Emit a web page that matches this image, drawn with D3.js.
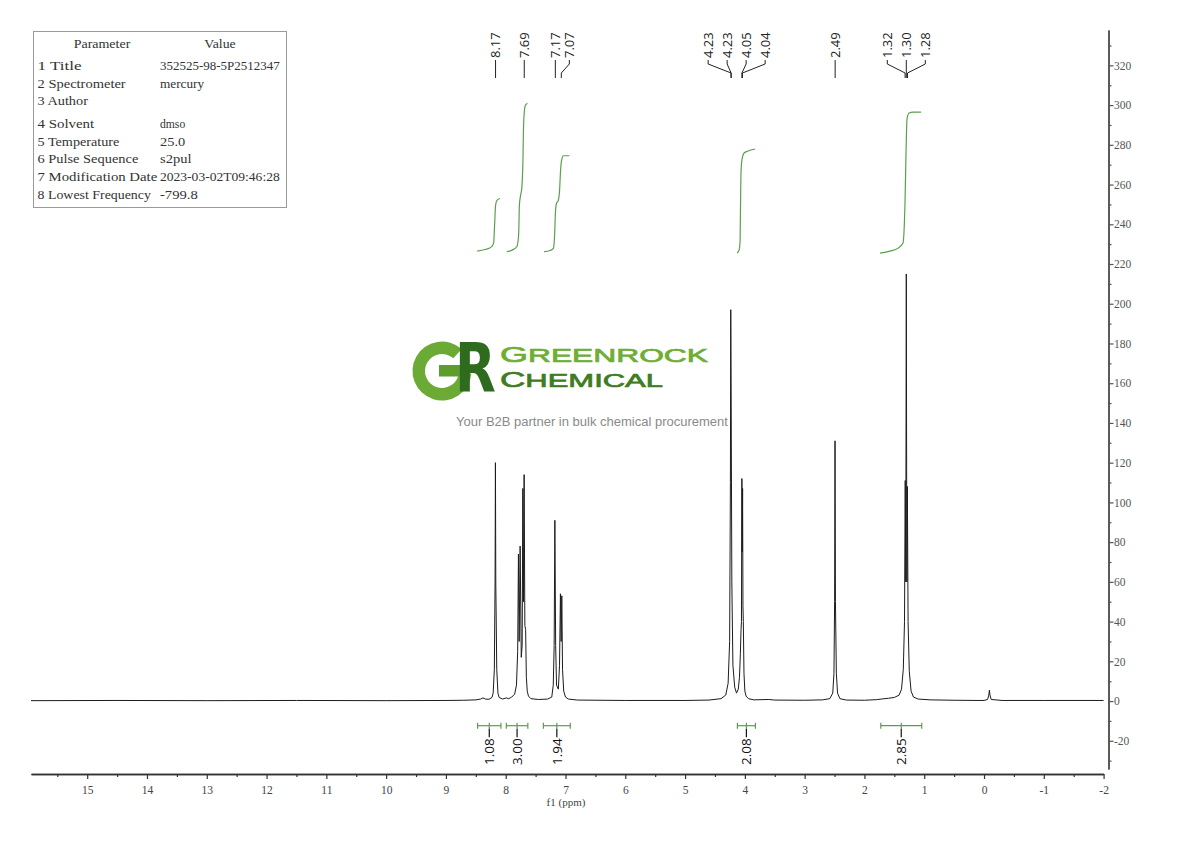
<!DOCTYPE html>
<html><head><meta charset="utf-8">
<script src="https://cdn.jsdelivr.net/npm/d3@7"></script>
<style>body{margin:0;background:#fff}svg{display:block}</style>
</head><body><svg id="c" width="1190" height="841"></svg>
<script>
// ---------------- DATA ----------------
const paramNames = ["1 Title","2 Spectrometer","3 Author","4 Solvent","5 Temperature","6 Pulse Sequence","7 Modification Date","8 Lowest Frequency"];
const paramValues = ["352525-98-5P2512347","mercury","","dmso","25.0","s2pul","2023-03-02T09:46:28","-799.8"];

// spectrum trace: [ppm, intensity]
const spectrum = [
 [15.94,0.2],[14.5,0.3],[13,0.2],[11.5,0.3],[10,0.2],[9,0.3],[8.7,0.4],[8.5,0.6],[8.42,1.0],[8.38,1.6],[8.34,1.0],
 [8.28,0.9],[8.23,1.8],[8.21,4],[8.19,16],[8.178,60],[8.172,120],[8.166,60],[8.15,16],[8.13,4],[8.11,1.8],[8.05,1.0],
 [7.99,1.6],[7.95,1.2],[7.90,2.0],[7.85,3.5],[7.82,8],[7.80,25],[7.787,74],[7.775,30],[7.759,78],[7.74,22],[7.725,28],
 [7.714,107],[7.703,50],[7.692,114],[7.68,38],[7.667,36],[7.655,12],[7.64,5],[7.62,2.5],[7.58,1.2],[7.45,0.8],[7.30,1.0],
 [7.23,2],[7.205,8],[7.19,28],[7.178,91],[7.165,28],[7.15,8],[7.12,6],[7.10,18],[7.085,54],[7.073,30],[7.062,53],
 [7.05,16],[7.03,5],[7.00,2],[6.95,1],[6.8,0.5],[6.0,0.3],[5.0,0.3],[4.6,0.5],[4.4,1.2],[4.32,3],[4.28,9],[4.255,30],
 [4.242,110],[4.236,197],[4.229,150],[4.218,60],[4.20,18],[4.17,7],[4.14,4],[4.11,6],[4.09,12],[4.075,24],[4.064,36],
 [4.057,40],[4.050,112],[4.044,75],[4.038,107],[4.032,48],[4.026,40],[4.015,14],[4.00,5],[3.98,2.5],[3.94,1.2],
 [3.85,0.6],[3.6,0.8],[3.5,0.5],[3.0,0.4],[2.7,0.6],[2.58,1.2],[2.53,4],[2.51,14],[2.499,50],[2.492,131],[2.485,50],
 [2.47,14],[2.45,4],[2.41,1.2],[2.3,0.5],[2.0,0.4],[1.8,0.7],[1.72,1.0],[1.6,1.4],[1.5,1.8],[1.42,3],[1.38,6],[1.35,16],
 [1.33,40],[1.318,111],[1.309,60],[1.300,215],[1.291,60],[1.282,108],[1.27,40],[1.25,15],[1.22,5],[1.18,2],[1.1,1],
 [0.9,0.6],[0.5,0.4],[0.1,0.3],[0,0.3],[-0.06,0.8],[-0.08,3],[-0.09,5.5],[-0.10,3],[-0.12,0.8],[-0.3,0.3],[-1,0.3],[-2,0.3]
];

// peak picking labels
const peakLabels = ["8.17","7.69","7.17","7.07","4.23","4.23","4.05","4.04","2.49","1.32","1.30","1.28"];
const peakGroups = [[0],[1],[2,3],[4,5,6,7],[8],[9,10,11]];

// integral curves [ppm, value]
const integral1 = [[8.478,226.5],[8.344,227.3],[8.244,228.5],[8.202,230.5],[8.186,239.6],[8.169,249.7],[8.144,252.2],[8.094,253.0]];
const integral2 = [[7.982,226.2],[7.893,227.0],[7.814,228.7],[7.784,234.6],[7.771,249.7],[7.751,254.7],[7.731,258.2],[7.712,272.3],[7.701,289.9],[7.676,299.5],[7.637,300.9]];
const integral3 = [[7.358,226.2],[7.258,226.8],[7.202,227.9],[7.182,234.6],[7.166,247.2],[7.149,250.7],[7.124,251.7],[7.099,257.2],[7.082,267.3],[7.065,272.3],[7.035,274.5],[6.935,274.5]];
const integral4 = [[4.130,225.5],[4.097,227.0],[4.080,231.5],[4.072,251.7],[4.064,266.8],[4.047,272.8],[4.013,275.9],[3.946,276.9],[3.829,277.9]];
const integral5 = [[1.739,225.5],[1.572,226.5],[1.438,228.0],[1.355,230.6],[1.321,251.7],[1.304,276.9],[1.288,293.0],[1.254,296.0],[1.187,296.5],[1.054,296.5]];

// integration ranges and values
const integralRanges = [[8.47,8.08],[7.99,7.63],[7.37,6.92],[4.125,3.824],[1.727,1.042]];
const integralValues = ["1.08","3.00","1.94","2.08","2.85"];

// axis ticks
const xTicks = [15,14,13,12,11,10,9,8,7,6,5,4,3,2,1,0,-1,-2];
const xMinorTicks = [15.5,14.5,13.5,12.5,11.5,10.5,9.5,8.5,7.5,6.5,5.5,4.5,3.5,2.5,1.5,0.5,-0.5,-1.5];
const yTicks = [320,300,280,260,240,220,200,180,160,140,120,100,80,60,40,20,0,-20];
const yMinorTicks = [330,310,290,270,250,230,210,190,170,150,130,110,90,70,50,30,10,-10,-30];

// ---------------- DRAW ----------------
const svg = d3.select("#c");
const x = d3.scaleLinear().domain([15.94,-2]).range([31,1103.6]);
const y = d3.scaleLinear().domain([-34.2,337.8]).range([769,30]);
const serif = "'Liberation Serif','DejaVu Serif',serif";
const sans = "'Open Sans','Liberation Sans',sans-serif";

// parameter table
const tbl = svg.append("g");
tbl.append("rect").attr("x",33.5).attr("y",31.5).attr("width",253).attr("height",176)
  .attr("fill","#fff").attr("stroke","#9a9a9a").attr("stroke-width",1);
const cw = 6.3;
function ttext(s, xx, yy, anchor){
  if(!s) return;
  tbl.append("text").attr("x",xx).attr("y",yy).attr("text-anchor",anchor||"start")
    .attr("font-family",serif).attr("font-size",13).attr("fill","#333")
    .attr("textLength", s.length*cw).attr("lengthAdjust","spacingAndGlyphs").text(s);
}
ttext("Parameter",102,47.5,"middle");
ttext("Value",220,47.5,"middle");
const rowY = [65.3,83,100.7,123.7,141.3,158.7,176.3,194.7];
paramNames.forEach((n,i)=>{ ttext(n,37.5,rowY[i]+4.5); ttext(paramValues[i],160,rowY[i]+4.5); });

// logo watermark
const logo = svg.append("g");
const arc = d3.arc().innerRadius(17).outerRadius(29.5).startAngle(95*Math.PI/180).endAngle(402*Math.PI/180);
logo.append("path").attr("d",arc()).attr("transform","translate(442,371)").attr("fill","#6aaa35");
logo.append("rect").attr("x",439).attr("y",365).attr("width",22).attr("height",11.5).attr("fill","#5c9d2c");
logo.append("text").attr("transform","translate(455,392) scale(0.78,1)")
  .attr("font-family","'DejaVu Sans',sans-serif").attr("font-weight","bold").attr("font-size",68)
  .attr("fill","#2f6b1e").text("R");
function brandWord(first, rest, yy, len, col){
  const t = logo.append("text").attr("x",500).attr("y",yy).attr("font-family","'Liberation Sans',Arial,sans-serif")
    .attr("fill",col).attr("stroke",col).attr("stroke-width",0.7)
    .attr("textLength",len).attr("lengthAdjust","spacingAndGlyphs");
  t.append("tspan").attr("font-size",21.5).text(first);
  t.append("tspan").attr("font-size",19).text(rest);
}
brandWord("G","REENROCK",362,208,"#6fae35");
brandWord("C","HEMICAL",386.5,163,"#3f7d1f");
logo.append("text").attr("x",456).attr("y",426).attr("font-family","'Liberation Sans',Arial,sans-serif")
  .attr("font-size",13).attr("fill","#8a8a8a").text("Your B2B partner in bulk chemical procurement");

// x axis
const xAxisG = svg.append("g").attr("transform","translate(0,774)");
xAxisG.call(d3.axisBottom(x).tickValues(xMinorTicks).tickSize(3).tickSizeOuter(0).tickFormat(""));
const xMaj = svg.append("g").attr("transform","translate(0,774)")
  .call(d3.axisBottom(x).tickValues(xTicks).tickSize(5).tickSizeOuter(0).tickFormat(d=>String(d)));
[xAxisG,xMaj].forEach(g=>{
  g.select(".domain").attr("stroke","#333").attr("stroke-width",1.3);
  g.selectAll(".tick line").attr("stroke","#333").attr("stroke-width",1.2);
});
xMaj.selectAll(".tick text").attr("font-family",serif).attr("font-size",11.5).attr("fill","#444").attr("dy","1.05em");
svg.append("text").attr("x",566).attr("y",806).attr("text-anchor","middle")
  .attr("font-family",serif).attr("font-size",11).attr("fill","#444").text("f1 (ppm)");

// y axis (right)
const yAxisMinor = svg.append("g").attr("transform","translate(1108.5,0)")
  .call(d3.axisRight(y).tickValues(yMinorTicks).tickSize(3).tickSizeOuter(0).tickFormat(""));
const yAxisG = svg.append("g").attr("transform","translate(1108.5,0)")
  .call(d3.axisRight(y).tickValues(yTicks).tickSize(5).tickSizeOuter(0).tickPadding(0).tickFormat(d=>String(d)));
[yAxisMinor,yAxisG].forEach(g=>{
  g.select(".domain").attr("stroke","#555").attr("stroke-width",1.6);
  g.selectAll(".tick line").attr("stroke","#555").attr("stroke-width",1.2);
});
yAxisG.selectAll(".tick text").attr("font-family",serif).attr("font-size",11.5).attr("fill","#555").attr("x",5.5);

// integral curves
const green = "#5aa04c";
const line = d3.line().x(d=>x(d[0])).y(d=>y(d[1]));
[integral1,integral2,integral3,integral4,integral5].forEach(c=>{
  svg.append("path").attr("d",d3.line().x(d=>x(d[0])).y(d=>y(d[1])).curve(d3.curveMonotoneX)(c))
    .attr("fill","none").attr("stroke",green).attr("stroke-width",1.2);
});

// spectrum
svg.append("path").attr("d",line(spectrum)).attr("fill","none").attr("stroke","#1c1c1c").attr("stroke-width",1)
  .attr("stroke-linejoin","round");

// integration bars & labels
const barY = y(-12.4);
integralRanges.forEach((r,i)=>{
  const x0 = x(r[0]), x1 = x(r[1]), cx = (x0+x1)/2;
  const g = svg.append("g");
  g.append("line").attr("x1",x0).attr("x2",x1).attr("y1",barY).attr("y2",barY).attr("stroke",green).attr("stroke-width",1.2);
  [x0,x1].forEach(xx=>g.append("line").attr("x1",xx).attr("x2",xx).attr("y1",barY-3).attr("y2",barY+3).attr("stroke",green).attr("stroke-width",1.2));
  g.append("line").attr("x1",cx).attr("x2",cx).attr("y1",barY-3).attr("y2",barY+3).attr("stroke",green).attr("stroke-width",1.2);
  g.append("line").attr("x1",cx).attr("x2",cx).attr("y1",barY+3).attr("y2",barY+11.5).attr("stroke","#111").attr("stroke-width",1.2);
  g.append("text").attr("transform",`translate(${cx},${barY+12.5}) rotate(-90)`).attr("text-anchor","end")
    .attr("dy","0.36em").attr("font-family",sans).attr("font-size",13.5).attr("fill","#111").text(integralValues[i]);
});

// peak labels
const groupLayout = [{sp:0,sh:0},{sp:0,sh:0},{sp:14,sh:4},{sp:19,sh:0},{sp:0,sh:0},{sp:19,sh:0}];
peakGroups.forEach((grp,gi)=>{
  const px = grp.map(i=>x(+peakLabels[i]));
  const mean = d3.mean(px);
  const L = groupLayout[gi];
  grp.forEach((pi,k)=>{
    const lx = grp.length===1 ? px[k] : mean + L.sh + (k-(grp.length-1)/2)*L.sp;
    const pts = [[lx,60],[lx,64],[px[k],73],[px[k],78]];
    svg.append("path").attr("d",d3.line()(pts)).attr("fill","none").attr("stroke","#222").attr("stroke-width",1);
    svg.append("text").attr("transform",`translate(${lx},58) rotate(-90)`).attr("dy","0.36em")
      .attr("font-family",sans).attr("font-size",13).attr("fill","#222").text(peakLabels[pi]);
  });
});
</script></body></html>
